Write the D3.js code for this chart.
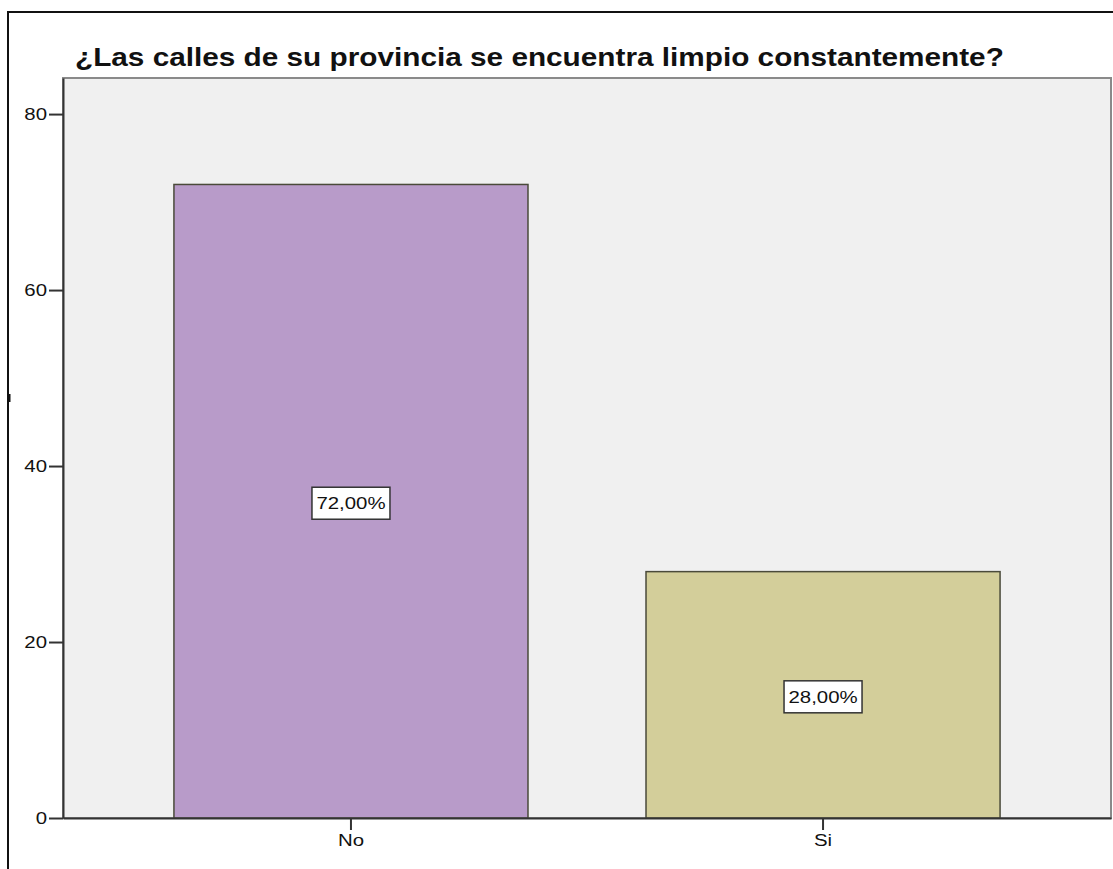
<!DOCTYPE html>
<html>
<head>
<meta charset="utf-8">
<script src="https://cdn.jsdelivr.net/npm/d3@7"></script>
<style>
  body { margin: 0; background: #fff; }
  svg { display: block; font-family: "Liberation Sans", Arial, sans-serif; }
</style>
</head>
<body>
<div id="chart"></div>
<script>
// data
const categories = ['No', 'Si'];
const percents = [72, 28];
const barLabels = ['72,00%', '28,00%'];
const barColors = ['#b89bc9', '#d3ce9a'];
const yTicks = [0, 20, 40, 60, 80];
const title = '¿Las calles de su provincia se encuentra limpio constantemente?';

const width = 1113;
const height = 869;
const plot = { left: 63, top: 78, right: 1111, bottom: 818 };
// the source image text is a bit wider than normal Arial
const stretch = 1.2;

// stretch a text horizontally around its own x anchor
function widen(sel, k = stretch) {
  sel.attr('transform', function () {
    const tx = +d3.select(this).attr('x') || 0;
    return `translate(${tx},0) scale(${k},1) translate(${-tx},0)`;
  });
}

const svg = d3.select('#chart').append('svg')
  .attr('width', width)
  .attr('height', height);

// outer frame (left + top visible)
svg.append('path')
  .attr('d', `M8,${height} L8,12 L${width},12`)
  .attr('fill', 'none')
  .attr('stroke', '#111')
  .attr('stroke-width', 2);

// little stray mark on the left frame
svg.append('line')
  .attr('x1', 9.5).attr('x2', 9.5)
  .attr('y1', 394).attr('y2', 402)
  .attr('stroke', '#111').attr('stroke-width', 2);

svg.append('text')
  .attr('x', 75)
  .attr('y', 66)
  .attr('font-size', 25)
  .attr('font-weight', 'bold')
  .attr('fill', '#111')
  .text(title)
  .call(widen, 1.19);

const x = d3.scaleBand()
  .domain(categories)
  .range([plot.left, plot.right])
  .paddingInner(0.25)
  .paddingOuter(0.235)
  .align(0.5);

const y = d3.scaleLinear()
  .domain([0, 84.1])
  .range([plot.bottom, plot.top]);

// plot background
svg.append('rect')
  .attr('x', plot.left)
  .attr('y', plot.top)
  .attr('width', plot.right - plot.left)
  .attr('height', plot.bottom - plot.top)
  .attr('fill', '#f0f0f0')
  .attr('stroke', '#8a8a8a')
  .attr('stroke-width', 2);

// bars
svg.selectAll('.bar')
  .data(percents)
  .enter().append('rect')
  .attr('class', 'bar')
  .attr('x', (d, i) => x(categories[i]))
  .attr('y', d => y(d))
  .attr('width', x.bandwidth())
  .attr('height', d => y(0) - y(d))
  .attr('fill', (d, i) => barColors[i])
  .attr('stroke', '#4a4a3a')
  .attr('stroke-width', 1.5);

// value labels in boxes
const labels = svg.selectAll('.lbl')
  .data(percents)
  .enter().append('g')
  .attr('class', 'lbl')
  .attr('transform', (d, i) => `translate(${x(categories[i]) + x.bandwidth() / 2},${y(d / 2) + 2})`);

labels.append('rect')
  .attr('x', -39)
  .attr('y', -16)
  .attr('width', 78)
  .attr('height', 32)
  .attr('fill', '#fff')
  .attr('stroke', '#333')
  .attr('stroke-width', 1.5);

labels.append('text')
  .attr('x', 0)
  .attr('text-anchor', 'middle')
  .attr('dy', '0.36em')
  .attr('font-size', 17)
  .attr('fill', '#111')
  .text((d, i) => barLabels[i])
  .call(widen);

// y axis
const yAxis = svg.append('g')
  .attr('transform', `translate(${plot.left},0)`)
  .call(d3.axisLeft(y).tickValues(yTicks).tickSize(14).tickSizeOuter(0).tickPadding(2));
yAxis.select('.domain').attr('stroke', '#333').attr('stroke-width', 2);
yAxis.selectAll('.tick line').attr('stroke', '#333').attr('stroke-width', 2);
yAxis.selectAll('.tick text')
  .attr('font-size', 17)
  .attr('fill', '#111')
  .attr('font-family', '"Liberation Sans", Arial, sans-serif')
  .call(widen);

// x axis
const xAxis = svg.append('g')
  .attr('transform', `translate(0,${plot.bottom})`)
  .call(d3.axisBottom(x).tickSize(12).tickPadding(4).tickSizeOuter(0));
xAxis.select('.domain').attr('stroke', '#333').attr('stroke-width', 2);
xAxis.selectAll('.tick line').attr('stroke', '#333').attr('stroke-width', 2);
xAxis.selectAll('.tick text')
  .attr('x', 0)
  .attr('font-size', 17)
  .attr('fill', '#111')
  .attr('font-family', '"Liberation Sans", Arial, sans-serif')
  .call(widen);
</script>
</body>
</html>
